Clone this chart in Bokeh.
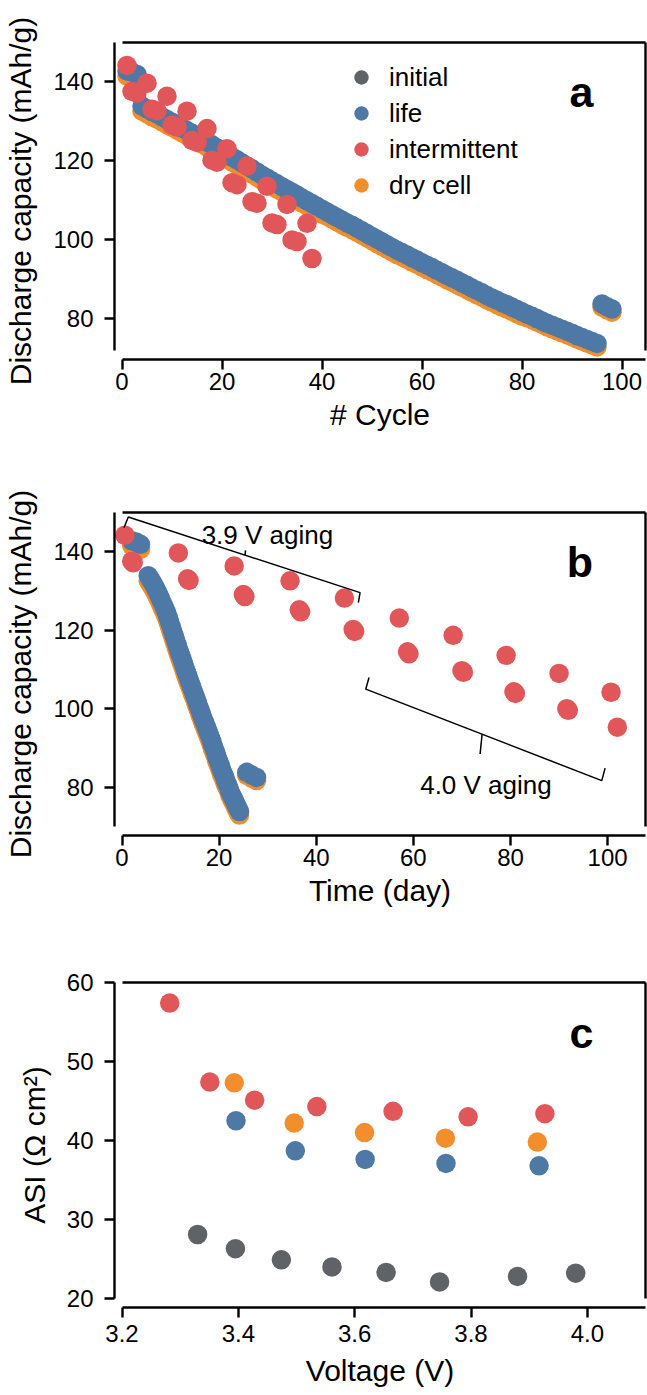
from bokeh.plotting import figure
from bokeh.models import (LinearAxis, FixedTicker, Legend, LegendItem, Label, Range1d,
                          PrintfTickFormatter)
from bokeh.layouts import column
from bokeh.embed import file_html
from bokeh.resources import INLINE

# ---------------- data ----------------
# life cell (blue) - discharge capacity per cycle
life_capacity = [142.8, 142.5, 141.9,
                 133.9, 133.2, 132.5, 131.9, 131.2, 130.5, 129.8, 129.1, 128.4, 127.7, 127.0, 126.3, 125.6,
                 124.8, 124.1, 123.3, 122.6, 121.8, 121.0, 120.3, 119.5, 118.7, 118.0, 117.2, 116.4, 115.7,
                 114.9, 114.2, 113.5, 112.8, 112.1, 111.4, 110.6, 109.9, 109.2, 108.5, 107.8, 107.1,
                 106.4, 105.7, 105.0, 104.3, 103.7, 103.0, 102.3, 101.6, 100.9, 100.2, 99.5, 98.8, 98.1, 97.4, 96.8,
                 96.2, 95.5, 94.9, 94.2, 93.6, 93.0, 92.3, 91.7, 91.0, 90.4, 89.8, 89.1, 88.5, 87.8, 87.2, 86.6, 85.9, 85.3,
                 84.7, 84.1, 83.6, 83.0, 82.4, 81.8, 81.2, 80.7, 80.1, 79.5, 78.9,
                 78.4, 77.9, 77.4, 76.9, 76.4, 75.8, 75.3, 74.8, 74.3, 73.8,
                 83.8, 83.1, 82.5]
# dry cell (orange)
dry_capacity = [141.5, 141.2, 140.6,
                132.6, 131.9, 131.2, 130.6, 129.9, 129.2, 128.5, 127.8, 127.1, 126.4, 125.7, 125.0, 124.3,
                123.5, 122.8, 122.0, 121.3, 120.5, 119.7, 119.0, 118.2, 117.4, 116.7, 115.9, 115.1, 114.4,
                113.6, 112.9, 112.2, 111.5, 110.8, 110.1, 109.3, 108.6, 107.9, 107.2, 106.5, 106.0,
                105.3, 104.6, 103.9, 103.2, 102.6, 101.9, 101.2, 100.5, 99.8, 99.1, 98.4, 97.7, 97.0, 96.3, 95.7,
                95.1, 94.4, 93.8, 93.1, 92.5, 91.9, 91.2, 90.6, 89.9, 89.3, 88.7, 88.0, 87.4, 86.7, 86.1, 85.5, 84.8, 84.2,
                83.6, 83.0, 82.5, 81.9, 81.3, 80.7, 80.3, 79.8, 79.2, 78.6, 78.0,
                77.5, 77.0, 76.5, 76.0, 75.5, 74.9, 74.4, 73.9, 73.4, 72.9,
                83.0, 82.3, 81.7]
life_cycle = list(range(1, len(life_capacity) + 1))
# elapsed time (day) of each cycle of the life / dry cells
life_day = [2.0, 2.9, 3.8,
            5.4, 5.75, 6.1, 6.4, 6.7, 7.0, 7.3, 7.55, 7.8, 8.05, 8.3, 8.55, 8.8,
            9.05, 9.3, 9.5, 9.7, 9.9, 10.1, 10.3, 10.5, 10.7, 10.9, 11.1, 11.3, 11.5,
            11.7, 11.9, 12.1, 12.3, 12.5, 12.7, 12.9, 13.1, 13.3, 13.5, 13.7, 13.9,
            14.1, 14.3, 14.5, 14.7, 14.9, 15.1, 15.3, 15.5, 15.7, 15.9, 16.1, 16.3, 16.5, 16.7, 16.9,
            17.1, 17.3, 17.5, 17.7, 17.9, 18.1, 18.3, 18.5, 18.6, 18.8, 19.0, 19.2, 19.4, 19.5, 19.7, 19.9, 20.1, 20.3,
            20.4, 20.6, 20.8, 21.0, 21.2, 21.3, 21.5, 21.7, 21.9, 22.1, 22.2,
            22.4, 22.6, 22.8, 23.0, 23.2, 23.4, 23.6, 23.8, 24.0, 24.2,
            25.7, 26.7, 27.7]

# intermittent cell (red)
int_cycle = [1, 2, 3, 5, 6, 7, 9, 10, 11, 13, 14, 15, 17, 18, 19,
             21, 22, 23, 25, 26, 27, 29, 30, 31, 33, 34, 35, 37, 38]
int_capacity = [144.2, 137.6, 137.2, 139.7, 133.1, 132.7, 136.4, 129.1, 128.6,
                132.6, 125.2, 124.7, 128.2, 120.2, 119.7, 123.1, 114.5, 114.0,
                118.7, 109.7, 109.3, 113.6, 104.3, 103.9, 109.0, 100.0, 99.6, 104.2, 95.3]
int_day = [0.6, 2.0, 2.3, 11.6, 13.5, 13.8, 23.1, 25.0, 25.3, 34.6, 36.5, 36.8,
           45.8, 47.6, 47.9, 57.1, 58.8, 59.1, 68.2, 70.0, 70.3, 79.1, 80.7, 81.0,
           90.0, 91.6, 91.9, 100.7, 102.0]

# panel c: area specific impedance vs voltage
init_v = [3.330, 3.395, 3.474, 3.561, 3.654, 3.746, 3.880, 3.980]
init_asi = [28.1, 26.3, 24.9, 24.0, 23.3, 22.1, 22.8, 23.2]
life_v = [3.396, 3.498, 3.618, 3.757, 3.917]
life_asi = [42.5, 38.7, 37.6, 37.1, 36.8]
int_v = [3.282, 3.351, 3.428, 3.535, 3.666, 3.795, 3.927]
int_asi = [57.4, 47.4, 45.1, 44.3, 43.7, 43.0, 43.4]
dry_v = [3.393, 3.496, 3.617, 3.756, 3.914]
dry_asi = [47.3, 42.2, 41.0, 40.3, 39.8]

series_labels = ["initial", "life", "intermittent", "dry cell"]
cycle_ticks = [0, 20, 40, 60, 80, 100]
day_ticks = [0, 20, 40, 60, 80, 100]
cap_ticks = [80, 100, 120, 140]
volt_ticks = [3.2, 3.4, 3.6, 3.8, 4.0]
asi_ticks = [20, 30, 40, 50, 60]

# annotation brackets in panel b (data coordinates)
br39_x = [0.41, 1.30, 49.02, 48.67]
br39_y = [146.13, 148.85, 129.59, 127.05]
br39_mid_x = [25.33, 25.44]
br39_mid_y = [139.16, 140.33]
br40_x = [50.87, 50.2, 98.8, 99.48]
br40_y = [107.96, 105.01, 81.68, 84.86]
br40_mid_x = [74.15, 73.74]
br40_mid_y = [93.51, 88.47]

# ---------------- style ----------------
FONT = "Liberation Sans"
C_INIT = "#5f6367"
C_LIFE = "#4e79a7"
C_INT = "#e15759"
C_DRY = "#f28e2b"
W = 647
LEFT = 114
RIGHT = 2
OFF_X = 7.5
OFF_Y = 9
LW = 2.4
MS = 19.5
NAN = float("nan")


def spine_axis(bounds):
    return LinearAxis(ticker=FixedTicker(ticks=[], minor_ticks=[]), bounds=bounds,
                      axis_line_width=LW, axis_line_color="black",
                      major_tick_out=0, major_tick_in=0, minor_tick_out=0, minor_tick_in=0,
                      major_label_standoff=0, axis_label=None)


def build(height, top, frame_h, xlim, ylim, xticks, yticks, xlabel, ylabel, xfmt=None,
          label_standoff=5, xlabel_standoff=9):
    frame_w = W - LEFT - RIGHT
    sx = (frame_w - OFF_X) / (xlim[1] - xlim[0])
    sy = (frame_h - OFF_Y) / (ylim[1] - ylim[0])
    p = figure(width=W, height=height, title=None,
               x_range=Range1d(xlim[0] - OFF_X / sx, xlim[1]),
               y_range=Range1d(ylim[0] - OFF_Y / sy, ylim[1]),
               output_backend="svg", toolbar_location=None,
               min_border_left=LEFT, min_border_right=RIGHT, min_border_top=top,
               min_border_bottom=height - top - frame_h)
    p.outline_line_color = None
    p.xgrid.visible = False
    p.ygrid.visible = False
    p.background_fill_color = "white"
    p.border_fill_color = "white"
    for ax, ticks, lab, bnd in ((p.below[0], xticks, xlabel, xlim), (p.left[0], yticks, ylabel, ylim)):
        ax.ticker = FixedTicker(ticks=ticks, minor_ticks=[])
        ax.bounds = bnd
        ax.axis_line_width = LW
        ax.axis_line_color = "black"
        ax.major_tick_line_width = LW
        ax.major_tick_line_color = "black"
        ax.major_tick_out = 10
        ax.major_tick_in = 0
        ax.minor_tick_out = 0
        ax.minor_tick_in = 0
        ax.major_label_text_font = FONT
        ax.major_label_text_font_size = "24px"
        ax.major_label_text_color = "black"
        ax.axis_label = lab
        ax.axis_label_text_font = FONT
        ax.axis_label_text_font_size = "30px"
        ax.axis_label_text_font_style = "normal"
        ax.axis_label_text_color = "black"
    p.below[0].major_label_standoff = label_standoff
    p.left[0].major_label_standoff = 11
    p.below[0].axis_label_standoff = xlabel_standoff
    p.left[0].axis_label_standoff = 13
    if xfmt is not None:
        p.below[0].formatter = xfmt
    p.add_layout(spine_axis(xlim), "above")
    p.add_layout(spine_axis(ylim), "right")
    return p


def letter(p, x, y, t):
    p.add_layout(Label(x=x, y=y, text=t, text_font=FONT, text_font_size="43px",
                       text_font_style="bold", text_align="right", text_baseline="alphabetic",
                       text_color="black"))


# ---------------- panel a ----------------
pa = build(480, 42, 317, (0, 104.7), (72, 150), cycle_ticks, cap_ticks,
           "# Cycle", "Discharge capacity (mAh/g)", label_standoff=3, xlabel_standoff=5)
r_init_a = pa.scatter(x=[NAN], y=[NAN], size=MS, fill_color=C_INIT, line_color=None)
r_dry_a = pa.scatter(life_cycle, dry_capacity, size=MS, fill_color=C_DRY, line_color=None)
r_life_a = pa.scatter(life_cycle, life_capacity, size=MS, fill_color=C_LIFE, line_color=None)
r_int_a = pa.scatter(int_cycle, int_capacity, size=MS, fill_color=C_INT, line_color=None)
legend = Legend(items=[LegendItem(label=series_labels[0], renderers=[r_init_a]),
                       LegendItem(label=series_labels[1], renderers=[r_life_a]),
                       LegendItem(label=series_labels[2], renderers=[r_int_a]),
                       LegendItem(label=series_labels[3], renderers=[r_dry_a])],
                location=(228, 156), glyph_width=38, glyph_height=36, label_standoff=9,
                spacing=0, padding=0, margin=0, border_line_color=None,
                background_fill_alpha=0, label_text_font=FONT, label_text_font_size="26px",
                label_text_color="black", label_height=36)
pa.add_layout(legend)
letter(pa, 94.3, 137.4, "a")

# ---------------- panel b ----------------
pb = build(470, 32, 323, (0, 107.8), (70, 150), day_ticks, cap_ticks,
           "Time (day)", "Discharge capacity (mAh/g)", label_standoff=3, xlabel_standoff=5)
pb.scatter(life_day, dry_capacity, size=MS, fill_color=C_DRY, line_color=None)
pb.scatter(life_day, life_capacity, size=MS, fill_color=C_LIFE, line_color=None)
pb.scatter(int_day, int_capacity, size=MS, fill_color=C_INT, line_color=None)
pb.multi_line(xs=[br39_x, br39_mid_x, br40_x, br40_mid_x],
              ys=[br39_y, br39_mid_y, br40_y, br40_mid_y], line_color="black", line_width=1.5)
for tx, ty, tt in ((16.4, 144.3, "3.9 V aging"), (61.4, 80.7, "4.0 V aging")):
    pb.add_layout(Label(x=tx, y=ty, text=tt, text_font=FONT, text_font_size="26px",
                        text_align="left", text_baseline="alphabetic", text_color="black"))
letter(pb, 97.0, 137.3, "b")

# ---------------- panel c ----------------
pc = build(445, 32, 325, (3.2, 4.1), (20, 60), volt_ticks, asi_ticks,
           "Voltage (V)", "ASI (\u03a9 cm\u00b2)", xfmt=PrintfTickFormatter(format="%.1f"),
           label_standoff=7, xlabel_standoff=9)
pc.scatter(init_v, init_asi, size=MS, fill_color=C_INIT, line_color=None)
pc.scatter(life_v, life_asi, size=MS, fill_color=C_LIFE, line_color=None)
pc.scatter(int_v, int_asi, size=MS, fill_color=C_INT, line_color=None)
pc.scatter(dry_v, dry_asi, size=MS, fill_color=C_DRY, line_color=None)
letter(pc, 4.0106, 53.67, "c")

layout = column(pa, pb, pc)
open("out.html", "w").write(file_html(layout, INLINE))
